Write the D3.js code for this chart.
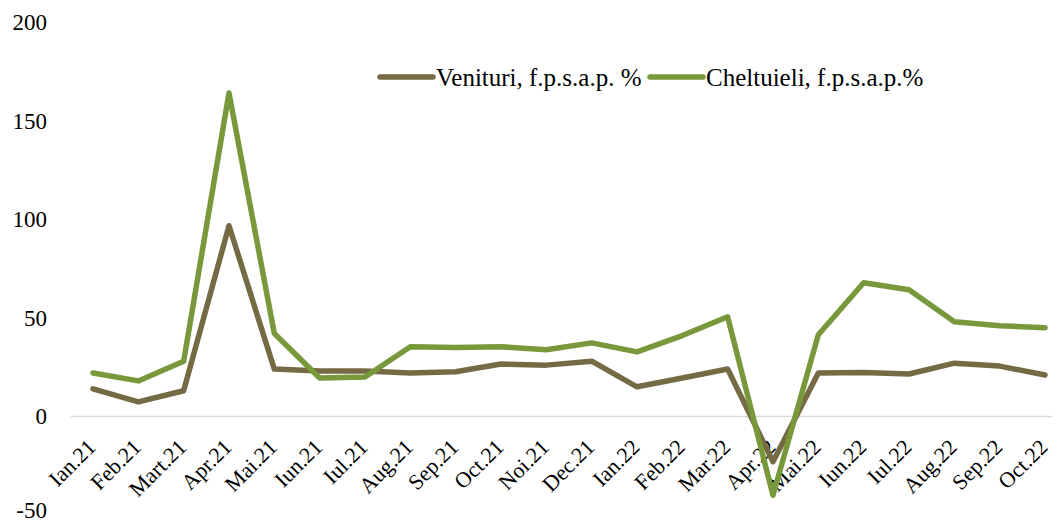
<!DOCTYPE html>
<html>
<head>
<meta charset="utf-8">
<script src="https://cdn.jsdelivr.net/npm/d3@7"></script>
<style>
  body { margin: 0; background: #fff; }
  text { font-family: "Liberation Serif", "DejaVu Serif", serif; fill: #000; }
</style>
</head>
<body>
<div id="chart"></div>
<script>
var months = ["Ian.21", "Feb.21", "Mart.21", "Apr.21", "Mai.21", "Iun.21", "Iul.21", "Aug.21",
  "Sep.21", "Oct.21", "Noi.21", "Dec.21", "Ian.22", "Feb.22", "Mar.22", "Apr.22",
  "Mai.22", "Iun.22", "Iul.22", "Aug.22", "Sep.22", "Oct.22"];

var venituri = [14, 7.4, 13, 96.7, 24, 23, 23, 22, 22.6, 26.6, 26, 28,
  15, 19.5, 24, -23, 22, 22.3, 21.5, 27, 25.5, 21];

var cheltuieli = [22, 18, 28, 164, 42, 19.5, 20, 35.3, 35, 35.3, 33.8, 37.3,
  32.7, 41, 50.5, -40, 41.4, 67.8, 64.2, 48, 46, 45];

var yTicks = [-50, 0, 50, 100, 150, 200];

var seriesNames = ["Venituri, f.p.s.a.p. %", "Cheltuieli, f.p.s.a.p.%"];

var width = 1058, height = 524;
var colors = ["#756a44", "#78993b"];

var svg = d3.select("#chart").append("svg")
  .attr("width", width)
  .attr("height", height);

var x_scale = d3.scalePoint()
  .domain(months)
  .range([93, 1045]);

var y_scale = d3.scaleLinear()
  .domain([-50, 200])
  .range([515, 22]);

// y labels (no axis line)
svg.append("g")
  .selectAll("text")
  .data(yTicks)
  .enter()
  .append("text")
  .attr("x", 47)
  .attr("y", function(d) { return d === -50 ? y_scale(d) - 5 : y_scale(d); })
  .attr("dy", "0.35em")
  .attr("text-anchor", "end")
  .style("font-size", "23px")
  .text(function(d) { return d; });

// zero line
svg.append("line")
  .attr("x1", 71)
  .attr("x2", 1052)
  .attr("y1", y_scale(0))
  .attr("y2", y_scale(0))
  .attr("stroke", "#d9d9d9")
  .attr("stroke-width", 1.5);

// x labels, rotated
svg.append("g")
  .selectAll("text")
  .data(months)
  .enter()
  .append("text")
  .attr("text-anchor", "end")
  .style("font-size", "22px")
  .attr("transform", function(d) {
    return "translate(" + (x_scale(d) + 4) + "," + (y_scale(0) + 32) + ") rotate(-45)";
  })
  .text(function(d) { return d; });

// Lines
var line = d3.line()
  .x(function(d, i) { return x_scale(months[i]); })
  .y(function(d) { return y_scale(d); });

[venituri, cheltuieli].forEach(function(s, i) {
  svg.append("path")
    .datum(s)
    .attr("fill", "none")
    .attr("stroke", colors[i])
    .attr("stroke-width", 5.5)
    .attr("stroke-linejoin", "round")
    .attr("stroke-linecap", "round")
    .attr("d", line);
});

// Legend
var legendX = [380, 650];
seriesNames.forEach(function(name, i) {
  var g = svg.append("g").attr("transform", "translate(" + legendX[i] + ",77)");
  g.append("line")
    .attr("x1", 0).attr("x2", 53)
    .attr("stroke", colors[i])
    .attr("stroke-width", 5.5)
    .attr("stroke-linecap", "round");
  g.append("text")
    .attr("x", 56)
    .attr("dy", "0.35em")
    .style("font-size", "25px")
    .text(name);
});
</script>
</body>
</html>
